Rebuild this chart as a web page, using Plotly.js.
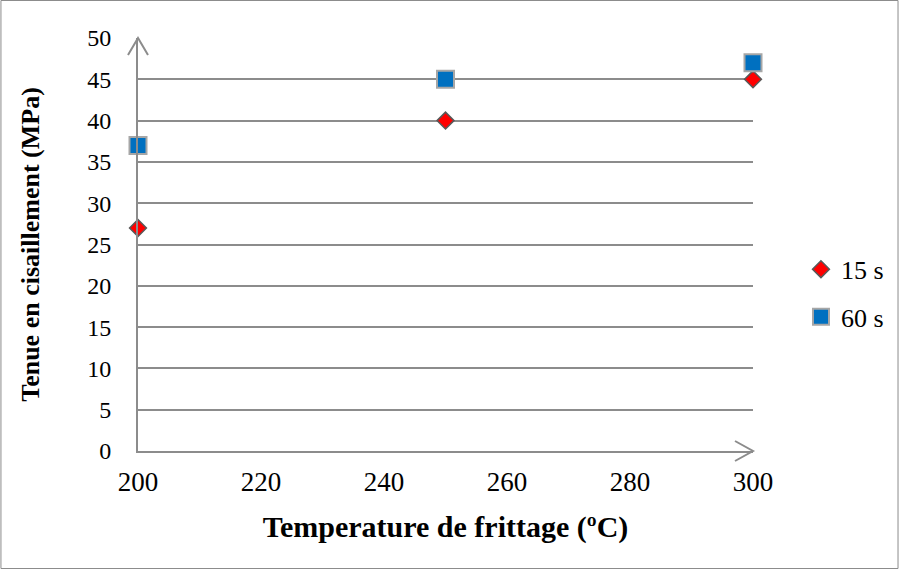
<!DOCTYPE html>
<html>
<head>
<meta charset="utf-8">
<script src="https://cdn.plot.ly/plotly-3.0.1.min.js"></script>
<style>html,body{margin:0;padding:0;background:#fff;}#chart{width:901px;height:569px;}</style>
</head>
<body>
<div id="chart"></div>
<script>
const temperatures = [200, 250, 300];
const series15s = [27, 40, 45];
const series60s = [37, 45, 47];
const seriesNames = ["15 s", "60 s"];
const xTicks = [200, 220, 240, 260, 280, 300];
const yTicks = [0, 5, 10, 15, 20, 25, 30, 35, 40, 45, 50];

const font = "Liberation Serif, Times New Roman, serif";
const grey = "#8c8c8c";

const traces = [
  {
    type: "scatter", mode: "markers", name: seriesNames[0],
    x: temperatures, y: series15s, cliponaxis: false, legend: "legend",
    marker: {symbol: "diamond", size: 13, color: "#FF0000", line: {color: "#595959", width: 1.5}}
  },
  {
    type: "scatter", mode: "markers", name: seriesNames[1],
    x: temperatures, y: series60s, cliponaxis: false, legend: "legend2",
    marker: {symbol: "square", size: 17, color: "#0070C0", line: {color: "#A6A6A6", width: 2}}
  }
];

const layout = {
  width: 901, height: 569,
  margin: {l: 138, r: 146, t: 38, b: 118},
  paper_bgcolor: "#fff", plot_bgcolor: "#fff",
  font: {family: font, size: 24, color: "#000"},
  showlegend: true,
  xaxis: {
    range: [200, 300], tickvals: xTicks, ticktext: xTicks.map(String),
    showgrid: false, zeroline: false, showline: true, linecolor: grey, linewidth: 2,
    ticks: "", ticklabelstandoff: 6, tickfont: {family: font, size: 27, color: "#000"},
    title: {text: "<b>Temperature de frittage (ºC)</b>", font: {family: font, size: 30, color: "#000"}, standoff: 20}
  },
  yaxis: {
    range: [0, 50], tickvals: yTicks, ticktext: yTicks.map(String),
    showgrid: true, gridcolor: grey, gridwidth: 2, zeroline: false,
    showline: true, linecolor: grey, linewidth: 2, ticks: "",
    ticklabelstandoff: 20,
    tickfont: {family: font, size: 24, color: "#000"},
    title: {text: "<b>Tenue en cisaillement (MPa)</b>", font: {family: font, size: 26, color: "#000"}, standoff: 40}
  },
  legend: {x: 1.078, xanchor: "left", y: 0.44, yanchor: "middle", font: {family: font, size: 26, color: "#000"}, bgcolor: "rgba(0,0,0,0)"},
  legend2: {x: 1.078, xanchor: "left", y: 0.325, yanchor: "middle", font: {family: font, size: 26, color: "#000"}, bgcolor: "rgba(0,0,0,0)"},
  shapes: [
    {type: "rect", xref: "paper", yref: "paper", x0: -137.5/617, x1: (900.5-138)/617, y0: (451-568.5)/413, y1: (451-0.5)/413,
     line: {color: grey, width: 1}, layer: "below"},
    {type: "path", xref: "paper", yref: "paper", xsizemode: "pixel", ysizemode: "pixel", xanchor: 1, yanchor: 0,
     path: "M -18 10 L 0 0 L -18 -10", line: {color: grey, width: 2}},
    {type: "path", xref: "paper", yref: "paper", xsizemode: "pixel", ysizemode: "pixel", xanchor: 0, yanchor: 1,
     path: "M -10 -17 L 0 0 L 10 -17", line: {color: grey, width: 2}}
  ]
};

Plotly.newPlot("chart", traces, layout, {displayModeBar: false, staticPlot: true});
</script>
</body>
</html>
